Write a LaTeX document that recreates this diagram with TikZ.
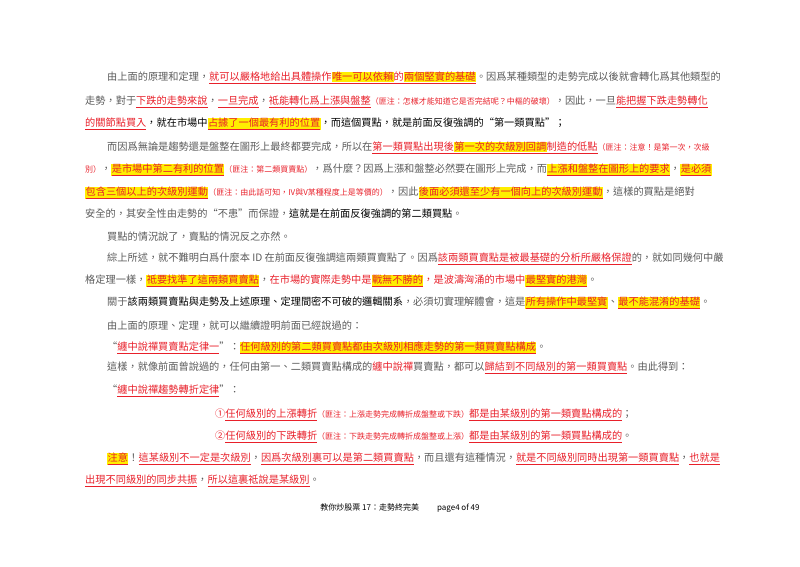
\documentclass[tikz,border=0pt]{standalone}
\usepackage{fontspec}
\setmainfont{Noto Sans CJK TC}
\definecolor{rd}{HTML}{E8202A}
\definecolor{gy}{HTML}{5A5A5A}
\definecolor{hy}{HTML}{FFEE00}
\newcommand\rd[1]{\textcolor{rd}{#1}}
\newcommand\K[1]{\textcolor{black}{#1}}
\newcommand\U[1]{\underline{#1}}
\newcommand\Y[1]{{\setlength\fboxsep{0.4pt}\colorbox{hy}{#1}}}
\newcommand\nt[1]{{\fontsize{8}{8}\selectfont\textcolor{rd}{#1}}}
\begin{document}
\begin{tikzpicture}[x=1pt,y=-1pt,
  ln/.style={anchor=west,inner sep=0pt,text=gy,font=\fontsize{10.2}{12}\selectfont}]
\useasboundingbox (0,0) rectangle (800,566);
\node[ln] (l1) at (107,78) {由上面的原理和定理，\rd{\U{就可以嚴格地給出具體操作\Y{唯一可以依賴}的\Y{兩個堅實的基礎}}}。因爲某種類型的走勢完成以後就會轉化爲其他類型的};
\node[ln] (l2) at (85,102) {走勢，對于\rd{\U{下跌的走勢來說}}，\rd{\U{一旦完成}}，\rd{\U{祗能轉化爲上漲與盤整}}\nt{（匪注：怎樣才能知道它是否完結呢？中樞的破壞）}，因此，一旦\rd{\U{能把握下跌走勢轉化}}};
\node[ln] (l3) at (85,124) {\rd{\U{的關節點買入}}\K{，就在市場中}\Y{\rd{\U{占據了一個最有利的位置}}}\K{，而這個買點，就是前面反復強調的“第一類買點”；}};
\node[ln] (l4) at (107,148) {而因爲無論是趨勢還是盤整在圖形上最終都要完成，所以在\rd{\U{第一類買點出現後\Y{第一次的次級別回調}制造的低點}}\nt{（匪注：注意！是第一次，次級}};
\node[ln] (l5) at (85,170) {\nt{別）}，\Y{\rd{\U{是市場中第二有利的位置}}}\nt{（匪注：第二類買賣點）}，爲什麼？因爲上漲和盤整必然要在圖形上完成，而\Y{\rd{\U{上漲和盤整在圖形上的要求}}}，\Y{\rd{\U{是必須}}}};
\node[ln] (l6) at (85,193) {\Y{\rd{\U{包含三個以上的次級別運動}}}\nt{（匪注：由此話可知，IV與V某種程度上是等價的）}，因此\Y{\rd{\U{後面必須還至少有一個向上的次級別運動}}}，這樣的買點是絕對};
\node[ln] (l7) at (85,214) {安全的，其安全性由走勢的“不患”而保證，\K{這就是在前面反復強調的第二類買點}。};
\node[ln] (l8) at (107,237) {買點的情況說了，賣點的情況反之亦然。};
\node[ln] (l9) at (107,259) {綜上所述，就不難明白爲什麼本 ID 在前面反復強調這兩類買賣點了。因爲\rd{\U{該兩類買賣點是被最基礎的分析所嚴格保證}}的，就如同幾何中嚴};
\node[ln] (l10) at (85,281) {格定理一樣，\Y{\rd{\U{祗要找準了這兩類買賣點}}}，\rd{在市場的實際走勢中是\Y{\U{戰無不勝的}}，是波濤洶涌的市場中\Y{\U{最堅實的港灣}}}。};
\node[ln] (l11) at (107,303) {關于\K{該兩類買賣點與走勢及上述原理、定理間密不可破的邏輯關系}，必須切實理解體會，這是\Y{\rd{\U{所有操作中最堅實}}}、\Y{\rd{\U{最不能混淆的基礎}}}。};
\node[ln] (l12) at (107,326) {由上面的原理、定理，就可以繼續證明前面已經說過的：};
\node[ln] (l13) at (107,348) {“\rd{\U{纏中說禪買賣點定律一}}”：\Y{\rd{\U{任何級別的第二類買賣點都由次級別相應走勢的第一類買賣點構成}}}。};
\node[ln] (l14) at (107,368) {這樣，就像前面曾說過的，任何由第一、二類買賣點構成的\rd{纏中說禪}買賣點，都可以\rd{\U{歸結到不同級別的第一類買賣點}}。由此得到：};
\node[ln] (l15) at (107,391) {“\rd{\U{纏中說禪趨勢轉折定律}}”：};
\node[ln] (l16) at (215,415) {\rd{①\U{任何級別的上漲轉折}}\nt{（匪注：上漲走勢完成轉折成盤整或下跌）}\rd{\U{都是由某級別的第一類賣點構成的}}；};
\node[ln] (l17) at (215,437) {\rd{②\U{任何級別的下跌轉折}}\nt{（匪注：下跌走勢完成轉折成盤整或上漲）}\rd{\U{都是由某級別的第一類買點構成的}}。};
\node[ln] (l18) at (107,459) {\Y{\rd{\U{注意}}}！\rd{\U{這某級別不一定是次級別}}，\rd{\U{因爲次級別裏可以是第二類買賣點}}，而且還有這種情況，\rd{\U{就是不同級別同時出現第一類買賣點}}，\rd{\U{也就是}}};
\node[ln] (l19) at (85,481) {\rd{\U{出現不同級別的同步共振}}，\rd{\U{所以這裏祗說是某級別}}。};
\node[anchor=center,inner sep=0pt,font=\fontsize{8}{9}\selectfont] (ft) at (400,508) {教你炒股票 17：走勢終完美\hspace{18pt}page4 of 49};
\end{tikzpicture}
\end{document}
